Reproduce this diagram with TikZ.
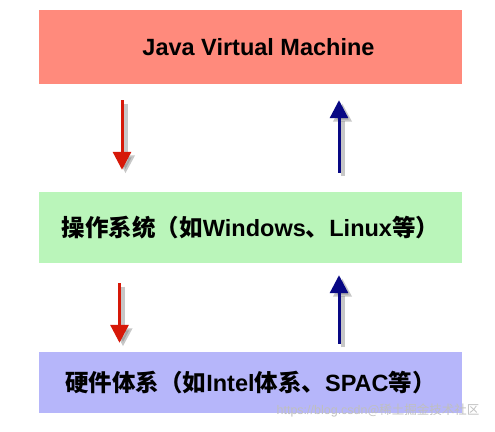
\documentclass[tikz,border=0pt]{standalone}
\usepackage{fontspec}
\setmainfont{Liberation Sans}
\newfontfamily\cjk{Noto Sans CJK SC}
\usetikzlibrary{arrows.meta}

\definecolor{jvmred}{RGB}{255,138,124}
\definecolor{osgreen}{RGB}{186,245,186}
\definecolor{hwblue}{RGB}{182,182,250}
\definecolor{downred}{RGB}{214,24,8}
\definecolor{upblue}{RGB}{8,8,132}

\begin{document}
\begin{tikzpicture}[x=1pt,y=-1pt,
	every layer/.style={minimum width=423pt,inner sep=0pt,font=\fontsize{23.5}{28}\selectfont\bfseries},
	every flow/.style={line width=3pt,-{Triangle[width=18pt,length=18pt]},
		preaction={draw=black!55,opacity=.4,line width=4pt,transform canvas={shift={(3.5pt,-3.5pt)}}}}]
	\useasboundingbox (0,0) rectangle (495,431);
	\node[every layer,fill=jvmred,minimum height=74pt] (jvm) at (250.5,47) {\hspace*{16pt}Java Virtual Machine};
	\node[every layer,fill=osgreen,minimum height=71pt] (os) at (250.5,227.5)
		{{\cjk 操作系统（如}Windows{\cjk 、}Linux{\cjk 等）}};
	\node[every layer,fill=hwblue,minimum height=61pt] (hw) at (250.5,382.5)
		{{\cjk 硬件体系（如}Intel{\cjk 体系、}SPAC{\cjk 等）}};
	\draw[every flow,downred] ([xshift=-128.5pt,yshift=-16pt]jvm.south) -- ([xshift=-128.5pt,yshift=22pt]os.north);
	\draw[every flow,upblue] ([xshift=88.5pt,yshift=19pt]os.north) -- ([xshift=88.5pt,yshift=-16pt]jvm.south);
	\draw[every flow,downred] ([xshift=-131pt,yshift=-20pt]os.south) -- ([xshift=-131pt,yshift=9pt]hw.north);
	\draw[every flow,upblue] ([xshift=88.5pt,yshift=8pt]hw.north) -- ([xshift=88.5pt,yshift=-12pt]os.south);
	\node[text=black!25,font=\fontsize{12.5}{14}\selectfont,anchor=east] (mark) at (483,410)
		{https://blog.csdn{\cjk @稀土掘金技术社区}};
\end{tikzpicture}
\end{document}
